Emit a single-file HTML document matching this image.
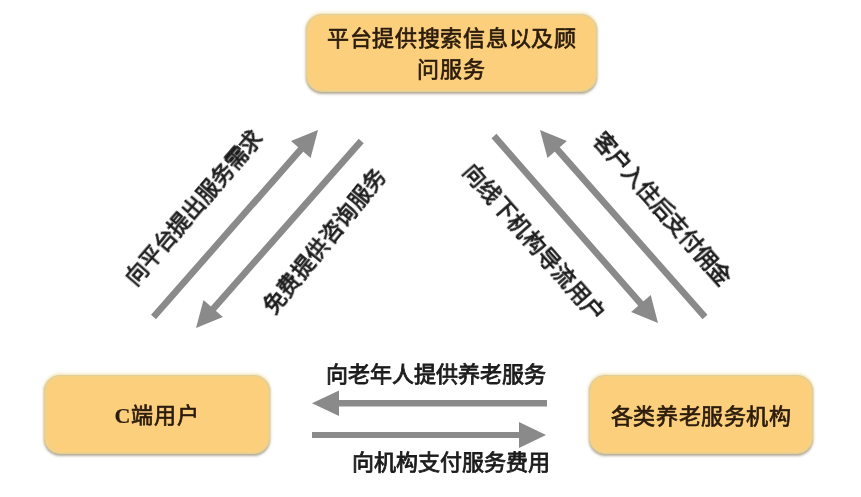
<!DOCTYPE html>
<html lang="zh-CN">
<head>
<meta charset="utf-8">
<style>
html,body{margin:0;padding:0;}
body{width:861px;height:497px;background:#fff;position:relative;overflow:hidden;font-family:"Liberation Sans",sans-serif;}
.box{position:absolute;box-sizing:border-box;background:#fccf7d;border:1.5px solid #e0cd98;border-radius:16px;box-shadow:0 1.5px 2.5px 0px rgba(120,105,80,0.55),0 -1px 3px 1px rgba(245,225,160,0.55),inset 0 0 3px 1px rgba(236,214,140,0.8);color:#2b1c0e;font-family:"Liberation Serif",serif;font-weight:400;-webkit-text-stroke:0.7px #2b1c0e;font-size:22px;text-align:center;will-change:transform;}
.lbl{position:absolute;white-space:nowrap;color:#1c1c1c;font-size:22px;font-weight:400;-webkit-text-stroke:0.85px #1c1c1c;line-height:1;will-change:transform;}
.rot{transform-origin:center center;}
svg{position:absolute;left:0;top:0;}
</style>
</head>
<body>
<svg width="861" height="497" viewBox="0 0 861 497">
  <g fill="#8a8a8a" stroke="#8a8a8a">
    <!-- left pair -->
    <line x1="153.5" y1="317" x2="302" y2="148" stroke-width="6.6"/>
    <polygon points="318,130 291,140.9 310.6,158.1" stroke="none"/>
    <line x1="361.2" y1="141" x2="212.2" y2="310" stroke-width="6.6"/>
    <polygon points="196,328 222.9,317.1 203.5,299.9" stroke="none"/>
    <!-- right pair -->
    <line x1="494" y1="136" x2="642" y2="305" stroke-width="6.6"/>
    <polygon points="658,323 631.1,312.1 650.7,294.9" stroke="none"/>
    <line x1="705" y1="317" x2="556" y2="148" stroke-width="6.6"/>
    <polygon points="540,130 566.9,140.9 547.5,158.1" stroke="none"/>
    <!-- bottom -->
    <line x1="337" y1="403.3" x2="547" y2="403.3" stroke-width="6.4"/>
    <polygon points="312,403.3 339,390.5 339,416" stroke="none"/>
    <line x1="312" y1="435" x2="521" y2="435" stroke-width="6.2"/>
    <polygon points="546,435 519,422 519,448" stroke="none"/>
  </g>
</svg>

<div class="box" style="left:306px;top:14px;width:291px;height:77.5px;line-height:31px;padding-top:8px;letter-spacing:0.7px;text-indent:0.7px;">平台提供搜索信息以及顾<br>问服务</div>
<div class="box" style="left:44px;top:375px;width:226px;height:79px;line-height:79px;letter-spacing:1px;text-indent:1px;"><span style="font-weight:700;-webkit-text-stroke:0.2px #2e1f10;">C</span>端用户</div>
<div class="box" style="left:588.5px;top:375px;width:224px;height:78.5px;line-height:81px;letter-spacing:0.6px;text-indent:0.6px;">各类养老服务机构</div>

<div class="lbl" style="left:193.7px;top:208px;letter-spacing:-0.2px;transform:translate(-50%,-50%) rotate(-49.2deg);">向平台提出服务需求</div>
<div class="lbl" style="left:324.5px;top:240.5px;letter-spacing:0.45px;transform:translate(-50%,-50%) rotate(-51deg);">免费提供咨询服务</div>
<div class="lbl" style="left:534px;top:242.8px;letter-spacing:0.4px;transform:translate(-50%,-50%) rotate(48.6deg);">向线下机构导流用户</div>
<div class="lbl" style="left:662px;top:209px;letter-spacing:-0.35px;transform:translate(-50%,-50%) rotate(48.6deg);">客户入住后支付佣金</div>

<div class="lbl" style="left:436px;top:375px;transform:translate(-50%,-50%);">向老年人提供养老服务</div>
<div class="lbl" style="left:451px;top:463px;transform:translate(-50%,-50%);">向机构支付服务费用</div>
</body>
</html>
